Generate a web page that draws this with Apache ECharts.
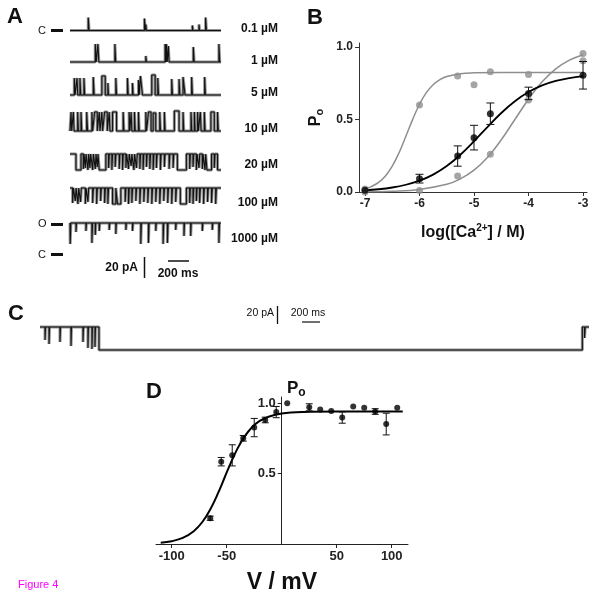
<!DOCTYPE html>
<html><head><meta charset="utf-8">
<script src="https://cdn.jsdelivr.net/npm/echarts@6/dist/echarts.min.js"></script>
<style>html,body{margin:0;padding:0;background:#fff}#c{width:600px;height:595px}</style>
</head><body><div id="c"></div>
<script>
// ---------- Panel A: single-channel traces (events: [start ms, end ms, current pA]) ----------
const concLabels = ['0.1 µM', '1 µM', '5 µM', '10 µM', '20 µM', '100 µM', '1000 µM'];
const traceBase = [0, 0, 0, 0, 16, 16, 21];          // resting current level (pA) of each trace
const traceDurA = 1440;                               // ms
const ev01 = [[174,182,13],[710,718,12],[723,729,6],[1167,1173,5],[1230,1236,6],[1293,1301,13]];
const ev1 = [[241,250,18],[266,275,18],[428,436,18],[723,729,6],[907,915,18],[919,927,18],[938,945,16],[1176,1184,15],[1420,1428,18]];
const ev5 = [[41,48,17],[67,74,17],[95,102,17],[133,140,17],[222,230,18],[304,336,19],[361,367,12],[437,444,17],[548,555,17],[596,602,12],[653,660,15],[672,691,19],[780,812,20],[837,844,17],[970,977,16],[1040,1047,16],[1078,1097,18],[1160,1167,18],[1284,1291,18]];
const ev10 = [[10,16,19],[32,39,19],[73,80,19],[105,112,19],[159,168,19],[209,216,19],[235,260,19],[279,286,19],[304,311,19],[330,355,19],[374,381,19],[406,444,19],[507,514,19],[564,571,19],[583,590,19],[615,622,19],[653,660,19],[723,730,19],[748,773,19],[793,818,18],[856,863,19],[900,907,19],[995,1040,20],[1078,1085,19],[1154,1161,19],[1186,1193,19],[1217,1224,19],[1243,1250,19],[1281,1288,19],[1344,1376,19],[1407,1414,19]];
const ev20 = [[57,105,0],[127,134,1],[146,153,2],[171,178,0],[190,197,2],[216,223,0],[241,248,1],[260,267,3],[279,342,0],[368,375,2],[399,406,0],[431,438,3],[469,476,1],[501,508,0],[533,540,2],[558,565,1],[583,590,4],[609,616,0],[634,641,2],[666,673,1],[697,704,0],[729,736,3],[761,768,1],[793,800,0],[824,831,2],[862,869,0],[900,907,3],[945,952,1],[983,990,2],[1024,1110,0],[1141,1148,1],[1173,1180,3],[1205,1212,0],[1230,1237,2],[1262,1269,1],[1287,1294,0],[1306,1350,0],[1376,1383,2],[1407,1440,0]];
const ev100 = [[25,32,1],[51,58,3],[76,83,0],[101,108,2],[146,153,0],[171,178,2],[216,223,1],[254,261,0],[292,299,3],[330,337,1],[361,368,0],[406,437,0],[453,485,0],[526,533,2],[558,565,0],[590,597,1],[628,635,3],[666,673,0],[704,711,2],[742,749,1],[780,787,0],[818,825,2],[856,863,0],[894,901,3],[932,939,1],[970,977,0],[1008,1015,2],[1052,1110,0],[1141,1148,1],[1173,1180,0],[1205,1212,3],[1236,1243,1],[1274,1281,0],[1312,1319,2],[1350,1357,1],[1389,1396,0]];
const ev1000 = [[2,8,0],[57,62,12],[152,157,13],[209,215,1],[241,246,9],[279,284,13],[374,379,14],[437,442,10],[533,538,14],[596,601,13],[675,681,0],[748,754,1],[818,823,13],[888,894,0],[929,935,1],[1008,1013,14],[1087,1092,8],[1151,1156,8],[1262,1267,13],[1357,1362,14],[1420,1426,1]];
const traceEvents = [ev01, ev1, ev5, ev10, ev20, ev100, ev1000];

// ---------- Panel C: long trace ----------
const traceDurC = 5770;
const evC = [[0,620,23],[53,58,10],[95,100,6],[210,215,8],[326,331,4],[452,457,8],[504,509,2],[546,551,1],[578,583,3],[5700,5770,23],[5723,5730,12]];

// ---------- Panel B: Po vs log[Ca2+] ----------
const bMeanX = [-7, -6, -5.3, -5, -4.7, -4, -3];
const bMeanY = [0.012, 0.092, 0.248, 0.375, 0.54, 0.68, 0.805];
const bMeanErr = [0, 0.03, 0.07, 0.085, 0.074, 0.043, 0.095];
const bGrayAX = [-7, -6, -5.3, -5, -4.7, -4, -3];
const bGrayAY = [0.02, 0.60, 0.80, 0.74, 0.83, 0.81, 0.905];
const bGrayBX = [-7, -6, -5.3, -4.7, -4, -3];
const bGrayBY = [0.0, 0.01, 0.11, 0.26, 0.635, 0.955];
const bFitMeanX = [-7,-6.75,-6.5,-6.25,-6,-5.75,-5.5,-5.25,-5,-4.75,-4.5,-4.25,-4,-3.75,-3.5,-3.25,-3];
const bFitMeanY = [0.012,0.019,0.031,0.050,0.078,0.120,0.179,0.257,0.350,0.450,0.545,0.626,0.689,0.735,0.766,0.786,0.799];
const bFitAX = [-7,-6.875,-6.75,-6.625,-6.5,-6.375,-6.25,-6.125,-6,-5.875,-5.75,-5.625,-5.5,-5.25,-5,-4.5,-4,-3.5,-3];
const bFitAY = [0.022,0.039,0.066,0.111,0.178,0.271,0.384,0.501,0.605,0.685,0.740,0.775,0.796,0.816,0.822,0.825,0.825,0.825,0.825];
const bFitBX = [-7,-6.5,-6,-5.5,-5.25,-5,-4.75,-4.5,-4.25,-4,-3.75,-3.5,-3.25,-3];
const bFitBY = [0.002,0.006,0.018,0.053,0.091,0.151,0.240,0.360,0.500,0.640,0.760,0.849,0.909,0.947];
const bTicksX = [-7, -6, -5, -4, -3];
const bTicksY = [0, 0.5, 1];

// ---------- Panel D: Po vs V ----------
const dV = [-65,-55,-45,-35,-25,-15,-5,5,25,35,45,55,65,75,85,95,105];
const dPo = [0.183,0.584,0.629,0.75,0.826,0.88,0.936,0.998,0.97,0.954,0.943,0.897,0.975,0.966,0.94,0.851,0.966];
const dErr = [0.015,0.03,0.075,0.02,0.065,0.02,0.04,0,0.025,0,0,0.04,0,0,0.02,0.077,0];
const dFitV = [-110,-100,-90,-80,-72,-65,-58,-52,-46,-40,-34,-27,-20,-12,0,20,50,80,110];
const dFitPo = [0.009,0.020,0.043,0.091,0.158,0.245,0.359,0.47,0.581,0.680,0.760,0.828,0.873,0.903,0.926,0.937,0.94,0.94,0.94];
const dTicksX = [-100, -50, 50, 100];
const dTicksY = [0.5, 1];

// ---------- helpers ----------
function stepTrace(base, events, tEnd) {
  const ts = new Set([0, tEnd]);
  events.forEach(e => { ts.add(e[0]); ts.add(e[1]); });
  const times = [...ts].sort((a, b) => a - b);
  const pts = [];
  for (let i = 0; i < times.length - 1; i++) {
    const a = times[i], b = times[i + 1], m = (a + b) / 2;
    let lv = base;
    events.forEach(e => { if (m >= e[0] && m < e[1]) lv = e[2]; });
    pts.push([a, lv], [b, lv]);
  }
  return pts;
}
const zip = (xs, ys) => xs.map((x, i) => [x, ys[i]]);
const zip3 = (xs, ys, es) => xs.map((x, i) => [x, ys[i], es[i]]);
const FONT = 'Liberation Sans, Arial, Helvetica, sans-serif';

function errRender(cap) {
  return function (params, api) {
    const x = api.value(0), y = api.value(1), e = api.value(2);
    if (!e) return null;
    const t = api.coord([x, y + e]), b = api.coord([x, y - e]);
    const st = { stroke: '#111', lineWidth: 1 };
    return { type: 'group', children: [
      { type: 'line', shape: { x1: t[0], y1: t[1], x2: b[0], y2: b[1] }, style: st },
      { type: 'line', shape: { x1: t[0] - cap, y1: t[1], x2: t[0] + cap, y2: t[1] }, style: st },
      { type: 'line', shape: { x1: b[0] - cap, y1: b[1], x2: b[0] + cap, y2: b[1] }, style: st }
    ]};
  };
}

// ---------- layout ----------
const closedYA = [30.5, 62, 95, 131, 170, 204, 244];
const grids = [], xAxes = [], yAxes = [], series = [];
closedYA.forEach((cy, i) => {
  grids.push({ left: 70, width: 151, top: cy - 25, height: 30 });
  xAxes.push({ gridIndex: i, type: 'value', min: 0, max: traceDurA, show: false });
  yAxes.push({ gridIndex: i, type: 'value', min: -5, max: 25, show: false });
  const d = stepTrace(traceBase[i], traceEvents[i], traceDurA);
  series.push({ type: 'line', xAxisIndex: i, yAxisIndex: i, data: d, showSymbol: false, silent: true,
    lineStyle: { color: 'rgba(40,40,40,0.5)', width: 3 } });
  series.push({ type: 'line', xAxisIndex: i, yAxisIndex: i, data: d, showSymbol: false, silent: true,
    lineStyle: { color: '#111', width: 1.1 } });
});
// C
grids.push({ left: 40, width: 549, top: 320, height: 35 });
xAxes.push({ gridIndex: 7, type: 'value', min: 0, max: traceDurC, show: false });
yAxes.push({ gridIndex: 7, type: 'value', min: -5, max: 30, show: false });
const dC = stepTrace(0, evC, traceDurC);
series.push({ type: 'line', xAxisIndex: 7, yAxisIndex: 7, data: dC, showSymbol: false, silent: true,
  lineStyle: { color: 'rgba(40,40,40,0.5)', width: 3 } });
series.push({ type: 'line', xAxisIndex: 7, yAxisIndex: 7, data: dC, showSymbol: false, silent: true,
  lineStyle: { color: '#111', width: 1.1 } });

// B
const axisCol = '#333';
grids.push({ left: 359, width: 228, top: 43, height: 149 });
xAxes.push({ gridIndex: 8, type: 'value', min: -7.11, max: -2.927,
  axisLine: { onZero: false, lineStyle: { color: axisCol, width: 1 } },
  axisTick: { customValues: bTicksX, length: 4, lineStyle: { color: axisCol } },
  axisLabel: { customValues: bTicksX, color: '#222', fontFamily: FONT, fontWeight: 'bold', fontSize: 12, margin: 6 },
  splitLine: { show: false },
  name: 'log([Ca{sup|2+}] / M)', nameLocation: 'middle', nameGap: 31,
  nameTextStyle: { color: '#111', fontFamily: FONT, fontWeight: 'bold', fontSize: 16,
    rich: { sup: { fontSize: 10, fontWeight: 'bold', fontFamily: FONT, color: '#111', verticalAlign: 'top', padding: [0, 0, 9, 0] } } } });
yAxes.push({ gridIndex: 8, type: 'value', min: 0, max: 1.0276,
  axisLine: { show: true, onZero: false, lineStyle: { color: axisCol, width: 1 } },
  axisTick: { show: true, customValues: bTicksY, length: 4, lineStyle: { color: axisCol } },
  axisLabel: { customValues: bTicksY, formatter: v => v.toFixed(1), color: '#222', fontFamily: FONT, fontWeight: 'bold', fontSize: 12, margin: 6 },
  splitLine: { show: false },
  name: 'P{sub|o}', nameLocation: 'middle', nameGap: 34, nameRotate: 90,
  nameTextStyle: { color: '#111', fontFamily: FONT, fontWeight: 'bold', fontSize: 16,
    rich: { sub: { fontSize: 11, fontWeight: 'bold', fontFamily: FONT, color: '#111', padding: [8, 0, 0, 0] } } } });
const gray = '#8e8e8e';
series.push({ type: 'line', xAxisIndex: 8, yAxisIndex: 8, data: zip(bFitAX, bFitAY), smooth: 0.4, showSymbol: false, lineStyle: { color: gray, width: 1.5 }, z: 2 });
series.push({ type: 'line', xAxisIndex: 8, yAxisIndex: 8, data: zip(bFitBX, bFitBY), smooth: 0.4, showSymbol: false, lineStyle: { color: gray, width: 1.5 }, z: 2 });
series.push({ type: 'line', xAxisIndex: 8, yAxisIndex: 8, data: zip(bFitMeanX, bFitMeanY), smooth: 0.4, showSymbol: false, lineStyle: { color: '#000', width: 1.8 }, z: 3 });
series.push({ type: 'scatter', xAxisIndex: 8, yAxisIndex: 8, data: zip(bGrayAX, bGrayAY), symbolSize: 7, itemStyle: { color: gray }, clip: false, z: 3 });
series.push({ type: 'scatter', xAxisIndex: 8, yAxisIndex: 8, data: zip(bGrayBX, bGrayBY), symbolSize: 7, itemStyle: { color: gray }, clip: false, z: 3 });
series.push({ type: 'custom', xAxisIndex: 8, yAxisIndex: 8, data: zip3(bMeanX, bMeanY, bMeanErr), renderItem: errRender(4), z: 4 });
series.push({ type: 'scatter', xAxisIndex: 8, yAxisIndex: 8, data: zip(bMeanX, bMeanY), symbolSize: 7, itemStyle: { color: '#000' }, clip: false, z: 5 });

// D
const dMinV = -114.3, dMaxV = 114.8, dLeft = 156, dWidth = 252;
grids.push({ left: dLeft, width: dWidth, top: 397, height: 152 });
xAxes.push({ gridIndex: 9, type: 'value', min: dMinV, max: dMaxV,
  axisLine: { onZero: false, lineStyle: { color: '#222', width: 1 } },
  axisTick: { customValues: dTicksX, length: 4, lineStyle: { color: '#222' } },
  axisLabel: { customValues: dTicksX, color: '#222', fontFamily: FONT, fontWeight: 'bold', fontSize: 13, margin: 6 },
  splitLine: { show: false },
  name: 'V / mV', nameLocation: 'middle', nameGap: 27,
  nameTextStyle: { color: '#111', fontFamily: FONT, fontWeight: 'bold', fontSize: 23 } });
yAxes.push({ gridIndex: 9, type: 'value', min: 0, max: 1.043, position: 'left',
  offset: -(0 - dMinV) / (dMaxV - dMinV) * dWidth,
  axisLine: { show: true, onZero: false, lineStyle: { color: '#222', width: 1 } },
  axisTick: { show: true, customValues: dTicksY, length: 4, lineStyle: { color: '#222' } },
  axisLabel: { customValues: dTicksY, formatter: v => v.toFixed(1), color: '#222', fontFamily: FONT, fontWeight: 'bold', fontSize: 13, margin: 6 },
  splitLine: { show: false } });
series.push({ type: 'line', xAxisIndex: 9, yAxisIndex: 9, data: zip(dFitV, dFitPo), smooth: 0.4, showSymbol: false, lineStyle: { color: '#000', width: 2 }, z: 2 });
series.push({ type: 'custom', xAxisIndex: 9, yAxisIndex: 9, data: zip3(dV, dPo, dErr), renderItem: errRender(3.5), z: 3 });
series.push({ type: 'scatter', xAxisIndex: 9, yAxisIndex: 9, data: zip(dV, dPo), symbolSize: 6, itemStyle: { color: '#000' }, clip: false, z: 4 });

// ---------- annotations ----------
const concY = [29, 61, 93, 129, 164.5, 202.5, 239];
const txt = (text, x, y, size, weight, align, extra) => Object.assign({ type: 'text', x: x, y: y,
  style: { text: text, font: (weight || 'normal') + ' ' + size + 'px ' + FONT, fill: '#111', textAlign: align || 'left', textVerticalAlign: 'middle' } }, extra || {});
const bar = (x1, y1, x2, y2, w) => ({ type: 'line', shape: { x1, y1, x2, y2 }, style: { stroke: '#111', lineWidth: w || 1.2 } });
const graphics = [
  txt('A', 7, 17, 22, 'bold'), txt('B', 307, 18, 22, 'bold'), txt('C', 8, 314, 22, 'bold'), txt('D', 146, 392, 22, 'bold'),
  txt('C', 38, 31, 11), bar(51, 30.5, 63, 30.5, 3),
  txt('O', 38, 224, 11), bar(51, 224.5, 63, 224.5, 3),
  txt('C', 38, 254.5, 11), bar(51, 254.5, 63, 254.5, 3),
  txt('20 pA', 138, 268, 12, 'bold', 'right'), bar(144.5, 257, 144.5, 278, 1.5),
  txt('200 ms', 178, 274, 12, 'bold', 'center'), bar(168, 261, 189, 261, 1.5),
  txt('20 pA', 274, 313, 10.5, 'normal', 'right'), bar(277.5, 306, 277.5, 324, 1.3),
  txt('200 ms', 308, 313, 10.5, 'normal', 'center'), bar(302, 322, 320, 322, 1.2),
  { type: 'text', x: 287, y: 388, style: { text: 'P{s|o}', font: 'bold 17px ' + FONT, fill: '#111', textVerticalAlign: 'middle',
    rich: { s: { font: 'bold 12px ' + FONT, fill: '#111', padding: [9, 0, 0, 0] } } } },
  { type: 'text', x: 18, y: 585, style: { text: 'Figure 4', font: '11px ' + FONT, fill: '#f0f', textVerticalAlign: 'middle' } }
];
concLabels.forEach((t, i) => graphics.push(txt(t, 278, concY[i], 12, 'bold', 'right')));

const chart = echarts.init(document.getElementById('c'), null, { renderer: 'canvas' });
chart.setOption({ animation: false, backgroundColor: '#fff', grid: grids, xAxis: xAxes, yAxis: yAxes, series: series, graphic: graphics });
</script></body></html>
